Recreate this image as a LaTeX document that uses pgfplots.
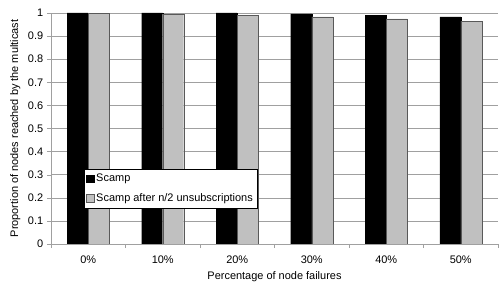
\documentclass[border=0pt]{standalone}
\usepackage{pgfplots}
\pgfplotsset{compat=1.18}
\usepackage{fontspec}
\setmainfont{Liberation Sans}
\definecolor{barg}{RGB}{192,192,192}
\definecolor{gridc}{RGB}{160,160,160}
\begin{document}
\fontsize{11}{13}\selectfont
\begin{tikzpicture}
\begin{axis}[
  name=ax,
  scale only axis,
  width=447bp, height=231bp,
  ybar, bar width=21bp, bar shift=0pt,
  xmin=-0.5, xmax=5.5, ymin=0, ymax=1,
  axis lines=left, axis line style={gridc, -},
  xtick={0,1,2,3,4,5},
  xticklabels={0\%,10\%,20\%,30\%,40\%,50\%},
  major x tick style={draw=none},
  minor xtick={-0.5,0.5,1.5,2.5,3.5,4.5,5.5},
  minor x tick style={gridc},
  minor tick length=4bp,
  ytick={0,0.1,...,1.0},
  yticklabels={0,0.1,0.2,0.3,0.4,0.5,0.6,0.7,0.8,0.9,1},
  y tick style={gridc}, major tick length=4bp,
  tick align=outside,
  ymajorgrids, grid style={gridc, line width=0.6pt},
  xticklabel style={yshift=-4bp},
  /pgf/number format/assume math mode=true,
  tick label style={font=\fontsize{11}{13}\selectfont},
  label style={font=\fontsize{11}{13}\selectfont},
  xlabel={Percentage of node failures},
  ylabel={Proportion of nodes reached by the multicast},
  legend cell align=left,
  legend style={at={(0.074,0.325)}, anchor=north west, draw=black, line width=0.4pt,
    font=\fontsize{11}{13}\selectfont, row sep=6bp, inner xsep=2bp, inner ysep=3bp},
  legend image code/.code={\draw[#1, line width=0.4pt] (0pt,-3.8pt) rectangle (7.6pt,3.8pt);},
]
\addplot[fill=black, draw=black, bar shift=-10.5bp] coordinates {(0,1.0) (1,1.0) (2,1.0) (3,0.996) (4,0.990) (5,0.983)};
\addplot[fill=barg, draw=black!65, bar shift=10.5bp] coordinates {(0,0.997) (1,0.993) (2,0.990) (3,0.983) (4,0.975) (5,0.965)};
\legend{Scamp,Scamp after n/2 unsubscriptions}
\end{axis}
\pgfresetboundingbox
\path[use as bounding box] ([shift={(-51bp,-44bp)}]ax.south west) rectangle ([shift={(1bp,13bp)}]ax.north east);
\end{tikzpicture}
\end{document}
